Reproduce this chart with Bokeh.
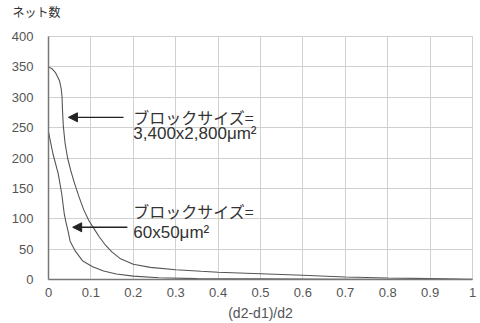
from bokeh.plotting import figure
from bokeh.models import Range1d, Label, Arrow, NormalHead, FixedTicker, Title
from bokeh.embed import file_html
from bokeh.resources import INLINE

# Data
x_large = [0, 0.008, 0.016, 0.026, 0.030, 0.032, 0.033, 0.035, 0.039, 0.045, 0.053, 0.062,
           0.072, 0.083, 0.095, 0.108, 0.120, 0.135, 0.150, 0.170, 0.200, 0.240,
           0.300, 0.360, 0.400, 0.500, 0.600, 0.670, 0.700, 0.800, 0.900, 1.000]
y_large = [350, 347, 341, 327, 314, 300, 279, 252, 225, 200, 178, 157,
           136, 115, 97, 83, 70, 56, 45, 34, 25, 20,
           16, 13.5, 12, 9.5, 7, 5, 4, 2.5, 1.5, 0.5]

x_small = [0, 0.0105, 0.023, 0.031, 0.037, 0.041, 0.046, 0.051, 0.063, 0.080, 0.104,
           0.130, 0.160, 0.200, 0.260, 0.350, 0.500, 0.700, 1.000]
y_small = [243, 207, 174, 142, 109, 95, 80, 63, 47, 31, 21,
           14, 9, 5.5, 3, 1.5, 1, 0.5, 0]

x_ticks = [0, 0.1, 0.2, 0.3, 0.4, 0.5, 0.6, 0.7, 0.8, 0.9, 1.0]
x_tick_labels = {0: "0", 0.1: "0.1", 0.2: "0.2", 0.3: "0.3", 0.4: "0.4", 0.5: "0.5",
                 0.6: "0.6", 0.7: "0.7", 0.8: "0.8", 0.9: "0.9", 1.0: "1"}
y_ticks = [0, 50, 100, 150, 200, 250, 300, 350, 400]

y_title = "ネット数"
x_title = "(d2-d1)/d2"
label1 = ["ブロックサイズ=", "3,400x2,800μm²"]
label2 = ["ブロックサイズ=", "60x50μm²"]

# annotation anchors (data units)
arrow1 = dict(x_start=0.177, x_end=0.047, y=267)
arrow2 = dict(x_start=0.186, x_end=0.057, y=86)
text1_pos = (0.20, 267, 241)
text2_pos = (0.20, 112, 78)

LATIN = "Liberation Sans"
JP = "Noto Sans CJK JP"

p = figure(width=480, height=323, output_backend="svg", toolbar_location=None,
           x_range=Range1d(0, 1), y_range=Range1d(0, 400),
           min_border_left=48, min_border_right=8, min_border_top=32, min_border_bottom=44,
           title=None)
p.background_fill_color = "white"
p.border_fill_color = "white"
p.outline_line_color = "#d0d0d0"

# y-axis title above the frame; an empty second line lifts it toward the top edge
p.add_layout(Title(text=y_title + "\n\u3000", text_font=JP, text_font_size="12px",
                   text_font_style="normal", text_color="#333333", align="left",
                   offset=-36, standoff=0, vertical_align="bottom"), "above")

p.line(x_large, y_large, line_color="#555555", line_width=1.1)
p.line(x_small, y_small, line_color="#555555", line_width=1.1)

p.xaxis.ticker = FixedTicker(ticks=x_ticks)
p.xaxis.major_label_overrides = x_tick_labels
p.yaxis.ticker = FixedTicker(ticks=y_ticks)
for ax in (p.xaxis, p.yaxis):
    ax.major_tick_line_color = None
    ax.minor_tick_line_color = None
    ax.axis_line_color = "#777777"
    ax.axis_line_width = 1.5
    ax.major_label_text_font = LATIN
    ax.major_label_text_font_size = "13px"
    ax.major_label_text_color = "#555555"
p.xaxis.major_label_standoff = 2
p.yaxis.major_label_standoff = 9
p.xaxis.axis_label = x_title
p.xaxis.axis_label_text_font = LATIN
p.xaxis.axis_label_text_font_size = "14px"
p.xaxis.axis_label_text_font_style = "normal"
p.xaxis.axis_label_text_color = "#555555"
p.xaxis.axis_label_standoff = 5

p.xgrid.grid_line_color = "#d0d0d0"
p.ygrid.grid_line_color = "#d0d0d0"

for arr in (arrow1, arrow2):
    p.add_layout(Arrow(end=NormalHead(size=9, fill_color="#222222", line_color="#222222"),
                       x_start=arr["x_start"], y_start=arr["y"], x_end=arr["x_end"], y_end=arr["y"],
                       line_color="#222222", line_width=1.3))

for lines, pos in ((label1, text1_pos), (label2, text2_pos)):
    x0, ya, yb = pos
    p.add_layout(Label(x=x0, y=ya, text=lines[0], text_font=JP, text_font_size="16px",
                       text_color="#333333", text_baseline="middle", text_align="left"))
    p.add_layout(Label(x=x0, y=yb, text=lines[1], text_font=LATIN, text_font_size="17px",
                       text_color="#333333", text_baseline="middle", text_align="left"))

open("out.html", "w").write(file_html(p, INLINE))
